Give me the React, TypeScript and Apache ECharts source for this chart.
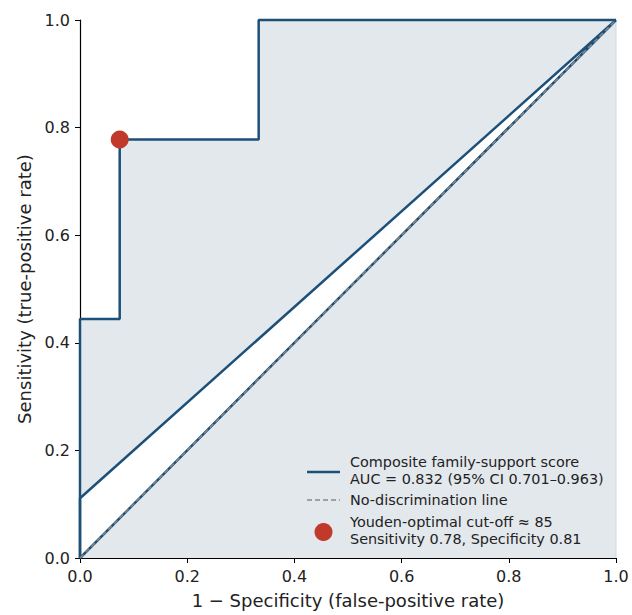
import React, { useEffect, useRef } from "react";
import * as echarts from "echarts";

const rocFpr = [0, 0, 2 / 27, 2 / 27, 9 / 27, 9 / 27, 1];
const rocTpr = [0, 4 / 9, 4 / 9, 7 / 9, 7 / 9, 1, 1];
const spurFpr = [0, 0, 1, 0];
const spurTpr = [0, 1 / 9, 1, 0];
const gapFpr = [0, 0, 1];
const gapTpr = [0, 1 / 9, 1];
const chanceFpr = [0, 1];
const chanceTpr = [0, 1];
const edgeFpr = [1, 1];
const edgeTpr = [0, 1];
const youdenPoint = [2 / 27, 7 / 9];

const legendLabels = [
  "Composite family-support score",
  "AUC = 0.832 (95% CI 0.701\u20130.963)",
  "No-discrimination line",
  "Youden-optimal cut-off \u2248 85",
  "Sensitivity 0.78, Specificity 0.81",
];

const BLUE = "#1d5078";
const FILL = "#e3e8ed";
const RED = "#c0392b";
const GRAY = "#888888";
const FONT = "DejaVu Sans";

const zip = (xs: number[], ys: number[]) => xs.map((x, i) => [x, ys[i]]);

export default function App() {
  const ref = useRef<HTMLDivElement>(null);
  useEffect(() => {
    if (!ref.current) return;
    const chart = echarts.init(ref.current, null, { renderer: "svg" });
    const axisCommon = {
      type: "value" as const,
      min: 0,
      max: 1,
      interval: 0.2,
      splitLine: { show: false },
      axisLine: { show: true, lineStyle: { color: "#000", width: 1.2 } },
      axisTick: { show: true, length: 5, lineStyle: { color: "#000" } },
      axisLabel: {
        color: "#222",
        fontSize: 16,
        fontFamily: FONT,
        margin: 10,
        formatter: (v: number) => v.toFixed(1),
      },
      nameLocation: "middle" as const,
      nameTextStyle: { fontSize: 18, fontFamily: FONT, color: "#222" },
    };
    const lx = 307;
    const FS = 14.4;
    chart.setOption({
      animation: false,
      grid: { left: 80, right: 16, top: 20, bottom: 57 },
      xAxis: { ...axisCommon, name: "1 \u2212 Specificity (false-positive rate)", nameGap: 33 },
      yAxis: { ...axisCommon, name: "Sensitivity (true-positive rate)", nameGap: 43 },
      series: [
        {
          type: "line",
          data: zip(rocFpr, rocTpr),
          showSymbol: false,
          lineStyle: { width: 0 },
          areaStyle: { color: FILL, opacity: 1 },
          z: 1,
        },
        {
          type: "line",
          data: zip(edgeFpr, edgeTpr),
          showSymbol: false,
          clip: false,
          lineStyle: { color: "#d3d8dd", width: 1 },
          z: 1,
        },
        {
          type: "custom",
          z: 2,
          clip: false,
          data: [0],
          renderItem: (_p: any, api: any) => ({
            type: "polygon",
            shape: { points: zip(gapFpr, gapTpr).map((p) => api.coord(p)) },
            style: { fill: "#ffffff" },
          }),
        },
        {
          type: "line",
          data: zip(spurFpr, spurTpr),
          showSymbol: false,
          clip: false,
          lineStyle: { color: BLUE, width: 2.5 },
          z: 3,
        },
        {
          type: "line",
          data: zip(rocFpr, rocTpr),
          showSymbol: false,
          clip: false,
          lineStyle: { color: BLUE, width: 2.5 },
          z: 4,
        },
        {
          type: "line",
          data: zip(chanceFpr, chanceTpr),
          showSymbol: false,
          clip: false,
          lineStyle: { color: GRAY, width: 1.5, type: [5, 3] },
          z: 5,
        },
        {
          type: "scatter",
          data: [youdenPoint],
          symbolSize: 18,
          clip: false,
          itemStyle: { color: RED, opacity: 1 },
          z: 6,
        },
      ],
      graphic: [
        { type: "line", shape: { x1: lx, y1: 472, x2: lx + 33, y2: 472 }, style: { stroke: BLUE, lineWidth: 2.5 }, z: 10 },
        { type: "text", x: 350, y: 462, style: { text: legendLabels[0], fontSize: FS, fontFamily: FONT, fill: "#222", verticalAlign: "middle" }, z: 10 },
        { type: "text", x: 350, y: 479, style: { text: legendLabels[1], fontSize: FS, fontFamily: FONT, fill: "#222", verticalAlign: "middle" }, z: 10 },
        { type: "line", shape: { x1: lx, y1: 500, x2: lx + 33, y2: 500 }, style: { stroke: GRAY, lineWidth: 1.5, lineDash: [5, 3] }, z: 10 },
        { type: "text", x: 350, y: 500, style: { text: legendLabels[2], fontSize: FS, fontFamily: FONT, fill: "#222", verticalAlign: "middle" }, z: 10 },
        { type: "circle", shape: { cx: 323.5, cy: 532, r: 9 }, style: { fill: RED }, z: 10 },
        { type: "text", x: 350, y: 522, style: { text: legendLabels[3], fontSize: FS, fontFamily: FONT, fill: "#222", verticalAlign: "middle" }, z: 10 },
        { type: "text", x: 350, y: 539, style: { text: legendLabels[4], fontSize: FS, fontFamily: FONT, fill: "#222", verticalAlign: "middle" }, z: 10 },
      ],
    });
    return () => chart.dispose();
  }, []);
  return <div ref={ref} style={{ width: 632, height: 615, position: "absolute", left: 0, top: 0 }} />;
}
